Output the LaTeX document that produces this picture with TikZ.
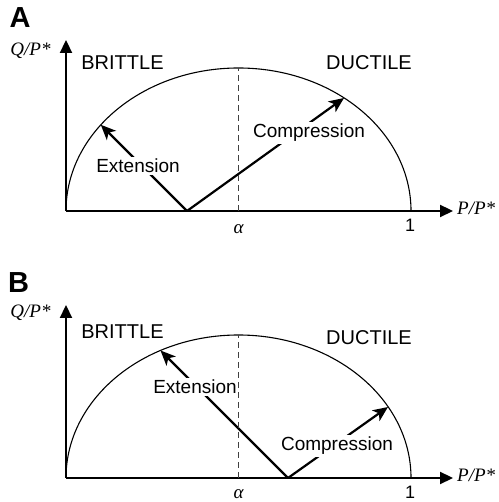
\documentclass[tikz,border=0pt]{standalone}
\usepackage{fontspec}
\setmainfont{Liberation Sans}
\newfontfamily\tnr{Liberation Serif}
\usetikzlibrary{arrows.meta}
\begin{document}
\begin{tikzpicture}[x=1pt,y=1pt,
  axis/.style={line width=2.2pt,-{Triangle[length=13pt,width=12pt]}},
  vec/.style={line width=2.2pt,-{Stealth[length=15pt,width=13pt,inset=4pt]}},
  curve/.style={line width=1.1pt},
  dashline/.style={line width=1pt,dash pattern=on 6pt off 4pt,color=black!75},
  lbl/.style={font=\fontsize{19}{19}\selectfont,fill=white,inner sep=2.5pt},
  regime/.style={font=\fontsize{20}{20}\selectfont,inner sep=0pt},
  mathlbl/.style={font=\fontsize{19}{19}\selectfont\tnr\itshape,inner sep=0pt,anchor=base},
  numlbl/.style={font=\fontsize{18}{18}\selectfont,inner sep=0pt,anchor=base},
  panel/.style={font=\fontsize{29}{29}\selectfont\bfseries,inner sep=0pt}]
\useasboundingbox (0,0) rectangle (498,502);
% ---------- Panel A ----------
\node[panel] (pA) at (20,484.5) {A};
\coordinate (A0) at (66,291);
\coordinate (AY) at (66,462);
\coordinate (AX) at (453,291);
\coordinate (AV) at (187,291);
\coordinate (AE) at (100.8,377.2);
\coordinate (AC) at (344,404);
\coordinate (AD0) at (238.5,291);
\coordinate (AD1) at (238.5,434);
\draw[curve] (A0) arc[start angle=180,end angle=0,x radius=172.5,y radius=143];
\draw[axis] (A0) -- (AY);
\draw[axis] (A0) -- (AX);
\draw[vec] (AV) -- (AE);
\draw[vec] (AV) -- (AC);
\node[lbl] (AExt) at (138,336) {Extension};
\node[lbl] (AComp) at (309,369) {Compression};
\draw[dashline] (AD0) -- (AD1);
\node[regime] (ABr) at (122.5,439) {BRITTLE};
\node[regime] (ADu) at (369,439) {DUCTILE};
\node[mathlbl] (AQ) at (30.5,446) {Q/P*};
\node[mathlbl,anchor=base west] (AP) at (457,287) {P/P*};
\node[mathlbl] (Aal) at (238.5,268) {α};
\node[numlbl] (A1) at (410,270) {1};
% ---------- Panel B ----------
\node[panel] (pB) at (18.5,219) {B};
\coordinate (B0) at (66,24);
\coordinate (BY) at (66,197);
\coordinate (BX) at (453,24);
\coordinate (BV) at (288,24);
\coordinate (BE) at (160.5,151.5);
\coordinate (BC) at (388,95);
\coordinate (BD0) at (238.5,24);
\coordinate (BD1) at (238.5,167);
\draw[curve] (B0) arc[start angle=180,end angle=0,x radius=172.5,y radius=143];
\draw[axis] (B0) -- (BY);
\draw[axis] (B0) -- (BX);
\draw[vec] (BV) -- (BE);
\draw[vec] (BV) -- (BC);
\node[lbl] (BExt) at (195,115) {Extension};
\node[lbl] (BComp) at (337,56) {Compression};
\draw[dashline] (BD0) -- (BD1);
\node[regime] (BBr) at (122.5,170) {BRITTLE};
\node[regime] (BDu) at (369,164) {DUCTILE};
\node[mathlbl] (BQ) at (30.5,184) {Q/P*};
\node[mathlbl,anchor=base west] (BP) at (457,20) {P/P*};
\node[mathlbl] (Bal) at (238.5,3) {α};
\node[numlbl] (B1) at (410,3) {1};
\end{tikzpicture}
\end{document}
